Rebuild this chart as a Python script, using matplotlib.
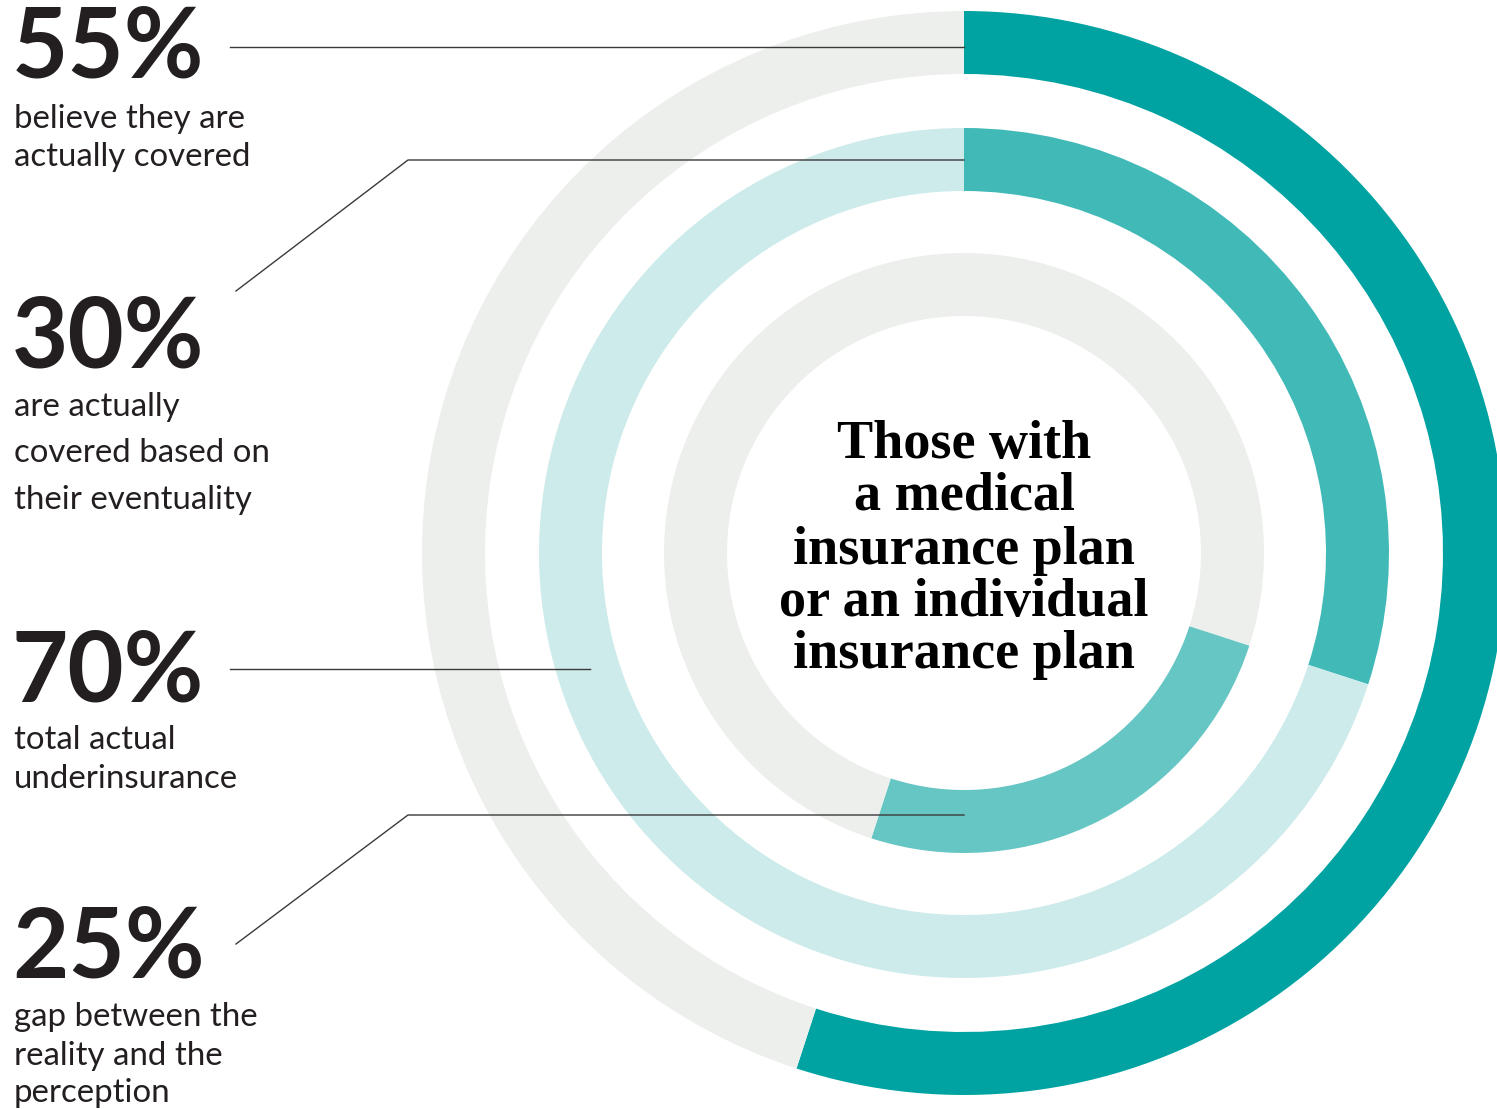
import matplotlib
matplotlib.use("Agg")
import matplotlib.pyplot as plt

# survey figures (percent of respondents)
believe_covered = 55
actually_covered = 30
gap = believe_covered - actually_covered
underinsured = 100 - actually_covered

labels = ["55%", "30%", "70%", "25%"]
captions = [
    ["believe they are", "actually covered"],
    ["are actually", "covered based on", "their eventuality"],
    ["total actual", "underinsurance"],
    ["gap between the", "reality and the", "perception"],
]
center_lines = ["Those with", "a medical", "insurance plan",
                "or an individual", "insurance plan"]

W, H = 1497, 1109
TEAL = "#00A3A1"
TEAL_MID = "#40B9B7"
TEAL_LIGHT = "#66C6C4"
MINT = "#CCEBEA"
GREY = "#EDEFEC"
INK = "#231F20"

fig = plt.figure(figsize=(W / 100, H / 100), dpi=100)
ax = fig.add_axes([0, 0, 1, 1])


def Y(y):
    # screen-style coordinate (top down) to axes coordinate
    return H - y


cx, cy = 964, Y(553)
ring_w = 63

# outer ring: perceived cover
ax.pie([believe_covered, 100 - believe_covered], colors=[TEAL, GREY],
       startangle=90, counterclock=False, center=(cx, cy), radius=542,
       wedgeprops=dict(width=ring_w, linewidth=0), frame=True)
# middle ring: actual cover
ax.pie([actually_covered, underinsured], colors=[TEAL_MID, MINT],
       startangle=90, counterclock=False, center=(cx, cy), radius=425,
       wedgeprops=dict(width=ring_w, linewidth=0), frame=True)
# inner ring: the gap between the two
ax.pie([actually_covered, gap, 100 - believe_covered],
       colors=[GREY, TEAL_LIGHT, GREY],
       startangle=90, counterclock=False, center=(cx, cy), radius=300,
       wedgeprops=dict(width=ring_w, linewidth=0), frame=True)

ax.set_xlim(0, W)
ax.set_ylim(0, H)
ax.set_aspect("equal")
ax.axis("off")

# leader lines
lc = dict(color="#3a3a3a", lw=1.0)
ax.plot([230, 964], [Y(47), Y(47)], **lc)
ax.plot([236, 408, 964], [Y(291), Y(160), Y(160)], **lc)
ax.plot([230, 590], [Y(669), Y(669)], **lc)
ax.plot([236, 408, 964], [Y(944), Y(815), Y(815)], **lc)

# big numbers and captions
big_base = [78, 367, 701, 977]
cap_base = [[128, 166], [416, 462, 509], [749, 788], [1026, 1065, 1102]]
for lab, b, caps, cb in zip(labels, big_base, captions, cap_base):
    ax.text(12, Y(b), lab, fontsize=70, fontfamily="Lato", fontweight="bold",
            color=INK, va="baseline", ha="left")
    for line, yb in zip(caps, cb):
        ax.text(14, Y(yb), line, fontsize=23.8, fontfamily="Lato",
                color=INK, va="baseline", ha="left")

# centre title
for line, yb in zip(center_lines, [458, 510, 564, 616, 668]):
    ax.text(cx, Y(yb), line, fontsize=39, fontfamily="Liberation Serif",
            fontweight="bold", color="black", va="baseline", ha="center")

fig.savefig("out.png", dpi=100, facecolor="white")
